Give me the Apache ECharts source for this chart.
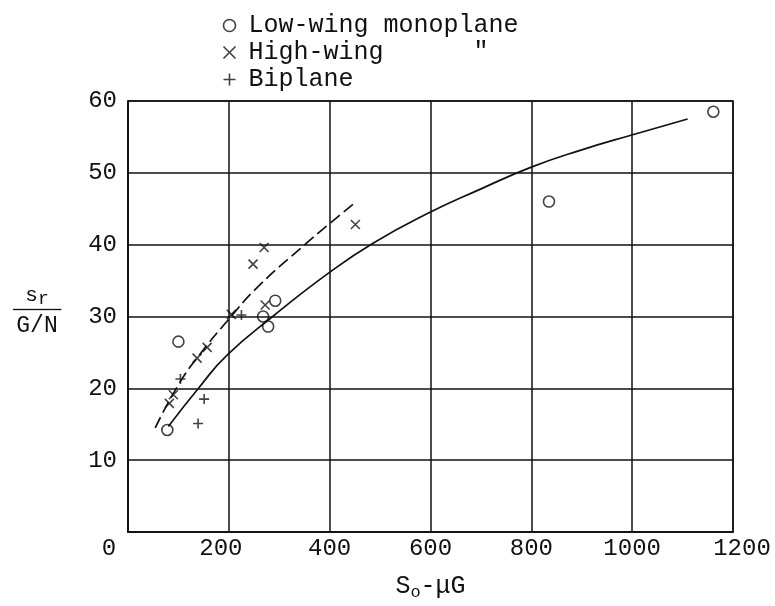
<!DOCTYPE html>
<html>
<head>
<meta charset="utf-8">
<script src="https://cdn.jsdelivr.net/npm/echarts@6/dist/echarts.min.js"></script>
<style>
  html, body { margin: 0; padding: 0; background: #fff; }
  #chart { width: 775px; height: 606px; }
</style>
</head>
<body>
<div id="chart"></div>
<script>
// Take-off run ratio against S0 - muG, by airplane type
const lowWing = [[78, 14.2], [100, 26.5], [268, 30.0], [278, 28.6], [292, 32.2], [835, 46.0], [1161, 58.5]];
const highWing = [[82, 17.9], [90, 19.1], [137, 24.2], [157, 25.7], [205, 30.3], [248, 37.3], [270, 39.6], [272, 31.6], [451, 42.8]];
const biplane = [[104, 21.3], [139, 15.1], [151, 18.5], [225, 30.2]];

// Faired curves
const lowWingCurve = [[80, 14.7], [143, 20.3], [196, 24.6], [287, 30.0], [397, 36.0], [486, 40.2], [596, 44.4], [698, 47.7], [800, 50.8], [900, 53.2], [1001, 55.3], [1110, 57.5]];
const highWingCurve = [[54, 14.5], [100, 20.5], [140, 24.5], [196, 29.3], [260, 34.3], [354, 40.2], [394, 42.6], [453, 46.0]];

const xTicks = { min: 0, max: 1200, step: 200 };
const yTicks = { min: 0, max: 60, step: 10 };

const seriesNames = ['Low-wing monoplane', 'High-wing', 'Biplane'];

const INK = '#111';
const FONT = 'Liberation Mono';

const crossPath = 'path://M0,0L10,10M10,0L0,10';
const plusPath = 'path://M5,0L5,10M0,5L10,5';

const markStyle = { color: 'none', borderColor: INK, borderWidth: 1.6 };

// typed tick labels sit a little off their grid lines at the ends
const tickRich = {
  lft: { fontFamily: FONT, fontSize: 24, color: INK, padding: [0, 38, 0, 0] },
  l2: { fontFamily: FONT, fontSize: 24, color: INK, padding: [0, 16, 0, 0] },
  rgt: { fontFamily: FONT, fontSize: 24, color: INK, padding: [0, 0, 0, 18] }
};
function xTickLabel(v) {
  if (v === 0) return '{lft|0}';
  if (v === 200) return '{l2|200}';
  if (v === 1200) return '{rgt|1200}';
  return String(v);
}

const chart = echarts.init(document.getElementById('chart'), null, { renderer: 'canvas' });

chart.setOption({
  backgroundColor: '#fff',
  animation: false,
  legend: {
    orient: 'vertical',
    left: 216,
    top: 8,
    itemWidth: 12,
    itemHeight: 12,
    itemGap: 2,
    textStyle: { fontFamily: FONT, fontSize: 25, color: INK, lineHeight: 25, padding: [0, 0, 0, 8] },
    formatter: name => name === 'High-wing' ? 'High-wing      "' : name,
    data: [
      { name: seriesNames[0], icon: 'circle', itemStyle: markStyle },
      { name: seriesNames[1], icon: crossPath, itemStyle: markStyle },
      { name: seriesNames[2], icon: plusPath, itemStyle: markStyle }
    ]
  },
  grid: {
    left: 128, right: 42, top: 101, bottom: 69,
    show: true, borderColor: INK, borderWidth: 1.5, backgroundColor: 'transparent'
  },
  xAxis: {
    type: 'value',
    min: xTicks.min, max: xTicks.max, interval: xTicks.step,
    name: '{s|S}{o|o}{t|-\u03bcG}',
    nameLocation: 'middle',
    nameGap: 40,
    nameTextStyle: {
      color: INK,
      rich: {
        s: { fontFamily: FONT, fontSize: 25, color: INK },
        o: { fontFamily: FONT, fontSize: 17, color: INK, padding: [12, 0, 0, 0] },
        t: { fontFamily: FONT, fontSize: 25, color: INK }
      }
    },
    axisLine: { show: true, lineStyle: { color: INK, width: 1.5 } },
    axisTick: { show: false },
    axisLabel: {
      margin: 5,
      color: INK,
      fontFamily: FONT,
      fontSize: 24,
      formatter: xTickLabel,
      rich: tickRich
    },
    splitLine: { show: true, lineStyle: { color: INK, width: 1.5 } }
  },
  yAxis: {
    type: 'value',
    min: yTicks.min, max: yTicks.max, interval: yTicks.step,
    name: '{s|s}{r|r}\n{l|\u2500\u2500\u2500\u2500\u2500}\n{d|G/N}',
    nameLocation: 'middle',
    nameRotate: 0,
    nameGap: 91,
    nameTextStyle: {
      align: 'center',
      padding: [0, 0, 12, 0],
      rich: {
        s: { fontFamily: FONT, fontSize: 21, color: INK, lineHeight: 22 },
        r: { fontFamily: FONT, fontSize: 18, color: INK, lineHeight: 22, padding: [8, 0, 0, 0] },
        l: { fontFamily: 'DejaVu Sans Mono', fontSize: 16, color: INK, lineHeight: 8 },
        d: { fontFamily: FONT, fontSize: 23, color: INK, lineHeight: 22 }
      }
    },
    axisLine: { show: true, lineStyle: { color: INK, width: 1.5 } },
    axisTick: { show: false },
    axisLabel: { margin: 11, color: INK, fontFamily: FONT, fontSize: 24, showMinLabel: false },
    splitLine: { show: true, lineStyle: { color: INK, width: 1.5 } }
  },
  series: [
    {
      name: seriesNames[0], type: 'scatter', data: lowWing,
      symbol: 'circle', symbolSize: 11, itemStyle: markStyle, z: 5
    },
    {
      name: seriesNames[1], type: 'scatter', data: highWing,
      symbol: crossPath, symbolSize: 9, itemStyle: markStyle, z: 5
    },
    {
      name: seriesNames[2], type: 'scatter', data: biplane,
      symbol: plusPath, symbolSize: 10, itemStyle: markStyle, z: 5
    },
    {
      type: 'line', data: lowWingCurve, smooth: true, showSymbol: false, silent: true,
      lineStyle: { color: INK, width: 1.7 }, z: 4
    },
    {
      type: 'line', data: highWingCurve, smooth: true, showSymbol: false, silent: true,
      lineStyle: { color: INK, width: 1.7, type: [12, 5] }, z: 4
    }
  ]
});
</script>
</body>
</html>
